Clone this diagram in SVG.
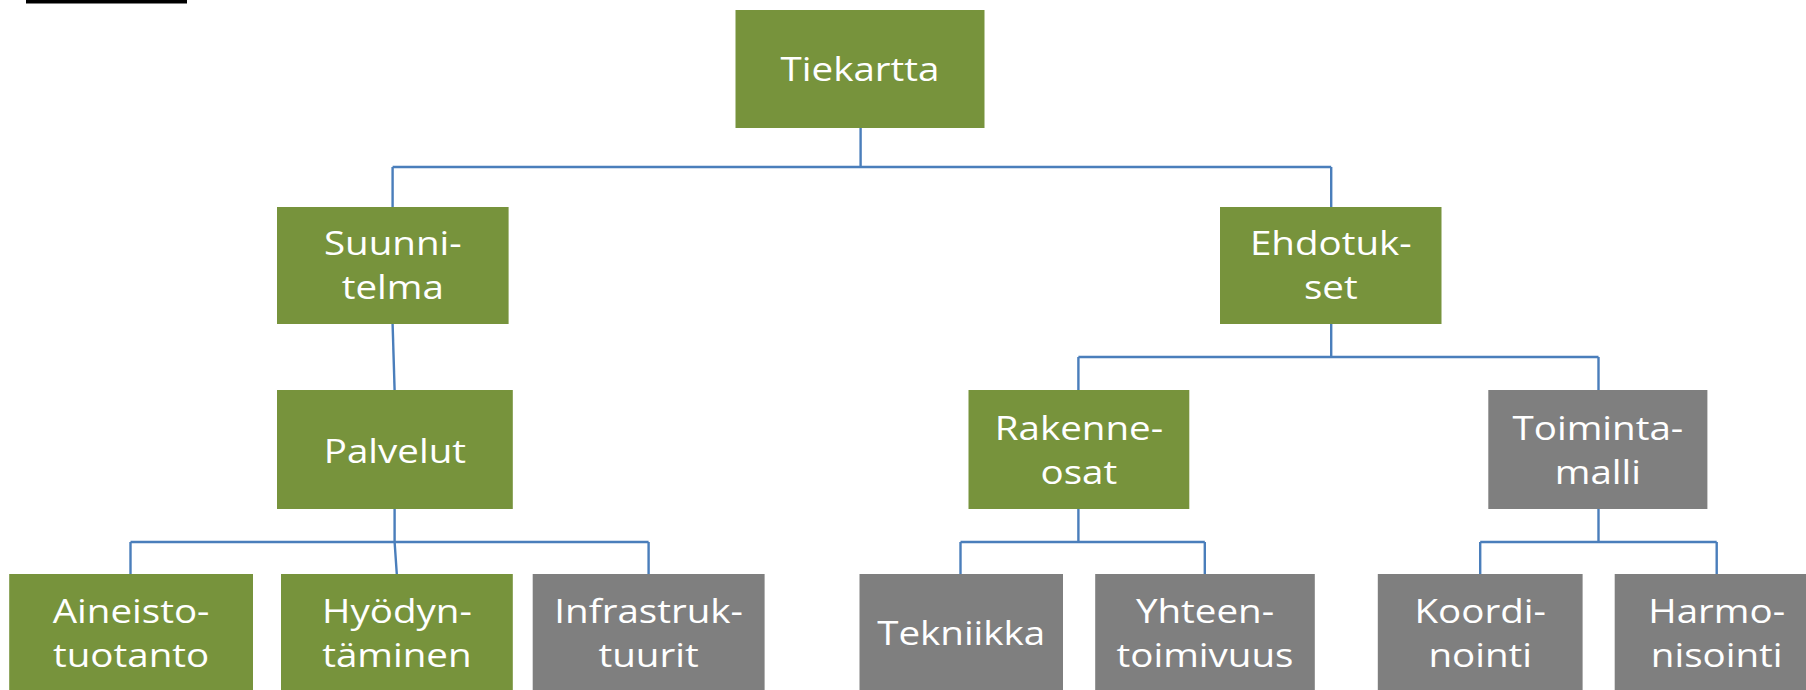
<svg xmlns="http://www.w3.org/2000/svg" width="1806" height="690" viewBox="0 0 1806 690">
<style>
.g{fill:#77933C}
.d{fill:#7F7F7F}
.t{font-family:"Open Sans","Liberation Sans",sans-serif;font-size:33.5px;fill:#FFFFFF;text-anchor:middle}
.c{fill:none;stroke:#4A7EBB;stroke-width:2.4}
</style>
<rect x="26" y="0" width="161" height="3.5" fill="#000"/>
<g id="connectors">
<path class="c" d="M860.6 128V167M392.6 167H1331.2M392.6 167V207M1331.2 167V207"/>
<path class="c" d="M392.6 324L394.6 390"/>
<path class="c" d="M394.6 509V542M130.5 542H648.6M130.5 542V574M394.6 542L396.8 574M648.6 542V574"/>
<path class="c" d="M1331.2 324V357M1078.4 357H1598.5M1078.4 357V390M1598.5 357V390"/>
<path class="c" d="M1078.4 509V542M960.5 542H1204.8M960.5 542V574M1204.8 542V574"/>
<path class="c" d="M1598.5 509V542M1480.2 542H1716.7M1480.2 542V574M1716.7 542V574"/>
</g>
<g id="tiekartta"><rect class="g" x="735.5" y="10" width="249" height="118"/><text class="t" transform="translate(860,81) scale(1.15,1)">Tiekartta</text></g>
<g id="suunnitelma"><rect class="g" x="277" y="207" width="231.6" height="117"/><text class="t" transform="translate(392.8,255) scale(1.15,1)">Suunni-</text><text class="t" transform="translate(392.8,298.5) scale(1.15,1)">telma</text></g>
<g id="ehdotukset"><rect class="g" x="1220" y="207" width="221.5" height="117"/><text class="t" transform="translate(1330.8,255) scale(1.15,1)">Ehdotuk-</text><text class="t" transform="translate(1330.8,298.5) scale(1.15,1)">set</text></g>
<g id="palvelut"><rect class="g" x="277" y="390" width="235.8" height="119"/><text class="t" transform="translate(394.9,463) scale(1.15,1)">Palvelut</text></g>
<g id="rakenneosat"><rect class="g" x="968.5" y="390" width="220.8" height="119"/><text class="t" transform="translate(1078.9,439.5) scale(1.15,1)">Rakenne-</text><text class="t" transform="translate(1078.9,483.5) scale(1.15,1)">osat</text></g>
<g id="toimintamalli"><rect class="d" x="1488.3" y="390" width="219.1" height="119"/><text class="t" transform="translate(1597.9,439.5) scale(1.15,1)">Toiminta-</text><text class="t" transform="translate(1597.9,483.5) scale(1.15,1)">malli</text></g>
<g id="aineistotuotanto"><rect class="g" x="9.2" y="574" width="243.8" height="120"/><text class="t" transform="translate(131.1,623.3) scale(1.15,1)">Aineisto-</text><text class="t" transform="translate(131.1,666.7) scale(1.15,1)">tuotanto</text></g>
<g id="hyodyntaminen"><rect class="g" x="281" y="574" width="231.8" height="120"/><text class="t" transform="translate(396.9,623.3) scale(1.15,1)">Hyödyn-</text><text class="t" transform="translate(396.9,666.7) scale(1.15,1)">täminen</text></g>
<g id="infrastruktuurit"><rect class="d" x="532.7" y="574" width="231.9" height="120"/><text class="t" transform="translate(648.6,623.3) scale(1.15,1)">Infrastruk-</text><text class="t" transform="translate(648.6,666.7) scale(1.15,1)">tuurit</text></g>
<g id="tekniikka"><rect class="d" x="859.5" y="574" width="203.5" height="120"/><text class="t" transform="translate(961.2,645) scale(1.15,1)">Tekniikka</text></g>
<g id="yhteentoimivuus"><rect class="d" x="1095.2" y="574" width="219.6" height="120"/><text class="t" transform="translate(1205,623.3) scale(1.15,1)">Yhteen-</text><text class="t" transform="translate(1205,666.7) scale(1.15,1)">toimivuus</text></g>
<g id="koordinointi"><rect class="d" x="1377.8" y="574" width="204.8" height="120"/><text class="t" transform="translate(1480.2,623.3) scale(1.15,1)">Koordi-</text><text class="t" transform="translate(1480.2,666.7) scale(1.15,1)">nointi</text></g>
<g id="harmonisointi"><rect class="d" x="1614.7" y="574" width="204" height="120"/><text class="t" transform="translate(1716.7,623.3) scale(1.15,1)">Harmo-</text><text class="t" transform="translate(1716.7,666.7) scale(1.15,1)">nisointi</text></g>
</svg>
